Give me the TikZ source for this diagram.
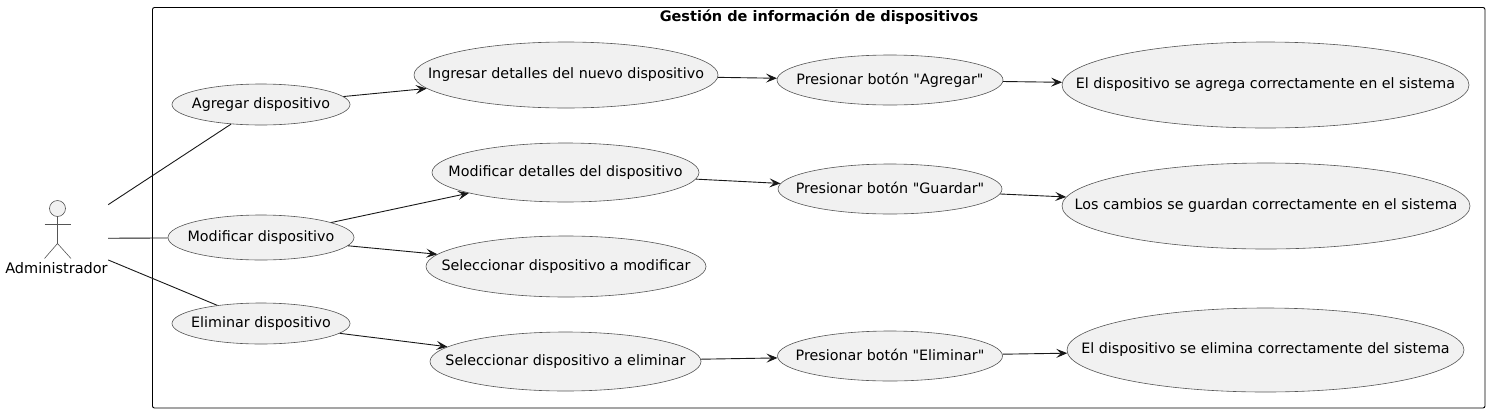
\documentclass[tikz,border=0pt]{standalone}
\usepackage{fontspec}
\newfontfamily\umlfont{DejaVu Sans}
\usetikzlibrary{shapes.geometric,arrows.meta}
\definecolor{umlline}{HTML}{181818}
\definecolor{umlgray}{HTML}{555555}
\definecolor{umlfill}{HTML}{F1F1F1}
\newcommand{\uctext}[1]{\raisebox{1.5pt}{\makebox[0pt]{#1}}}
\tikzstyle{usecase} = [ellipse, draw=umlgray, line width=0.6pt, fill=umlfill, inner sep=0pt, text=black, font=\umlfont\fontsize{14.3}{14.3}\selectfont]
\tikzstyle{arrow}   = [line width=0.9pt, draw=umlline, -{Stealth[length=11pt,width=9pt,inset=4.5pt]}]
\tikzstyle{assoc}   = [line width=0.9pt, draw=umlline]
\tikzstyle{limb}    = [line width=0.6pt, draw=umlgray]

\begin{document}
\begin{tikzpicture}[x=1pt,y=-1pt]
	\useasboundingbox (0,0) rectangle (1490,413);

	% system frame
	\draw[line width=0.9pt, rounded corners=2pt] (152.5,7.5) rectangle (1485,408);
	\node[font=\umlfont\fontsize{14.5}{14.5}\selectfont\bfseries] (title) at (819,17) {Gestión de información de dispositivos};

	% actor
	\node[draw=none, minimum width=103pt, minimum height=77pt, inner sep=0pt] (admin) at (56.5,238.5) {};
	\node[font=\umlfont\fontsize{14.5}{14.5}\selectfont] (adminlabel) at (56.5,268) {Administrador};
	\node[circle, draw=umlgray, line width=0.6pt, fill=umlfill, minimum size=16pt, inner sep=0pt] (head) at (57.5,208.5) {};
	\coordinate (hip) at (57.5,243.5);
	\coordinate (armleft) at (44.5,224.5);
	\coordinate (armright) at (71,224.5);
	\coordinate (legleft) at (44.5,258.5);
	\coordinate (legright) at (71,258.5);
	\draw[limb] (head) -- (hip);
	\draw[limb] (armleft) -- (armright);
	\draw[limb] (legleft) -- (hip) -- (legright);

	% first column
	\node[usecase, minimum width=178pt, minimum height=41pt] (agregar) at (261,104.5) {\uctext{Agregar dispositivo}};
	\node[usecase, minimum width=186pt, minimum height=45pt] (modificar) at (261,237.5) {\uctext{Modificar dispositivo}};
	\node[usecase, minimum width=178pt, minimum height=41pt] (eliminar) at (261,323.5) {\uctext{Eliminar dispositivo}};

	% second column
	\node[usecase, minimum width=304pt, minimum height=66pt] (ingresar) at (566,75) {\uctext{Ingresar detalles del nuevo dispositivo}};
	\node[usecase, minimum width=267pt, minimum height=59pt] (detalles) at (565.5,172.5) {\uctext{Modificar detalles del dispositivo}};
	\node[usecase, minimum width=280pt, minimum height=61pt] (selmod) at (566,266.5) {\uctext{Seleccionar dispositivo a modificar}};
	\node[usecase, minimum width=271pt, minimum height=59pt] (selelim) at (565.5,361.5) {\uctext{Seleccionar dispositivo a eliminar}};

	% third column
	\node[usecase, minimum width=226pt, minimum height=50pt] (btnagregar) at (890,80) {\uctext{Presionar botón "Agregar"}};
	\node[usecase, minimum width=224pt, minimum height=50pt] (btnguardar) at (890,189) {\uctext{Presionar botón "Guardar"}};
	\node[usecase, minimum width=225pt, minimum height=50pt] (btneliminar) at (890,356) {\uctext{Presionar botón "Eliminar"}};

	% last column
	\node[usecase, minimum width=407pt, minimum height=86pt] (finagregar) at (1265.5,85) {\uctext{El dispositivo se agrega correctamente en el sistema}};
	\node[usecase, minimum width=408pt, minimum height=86pt] (finguardar) at (1266,206) {\uctext{Los cambios se guardan correctamente en el sistema}};
	\node[usecase, minimum width=397pt, minimum height=84pt] (finelim) at (1265.5,350) {\uctext{El dispositivo se elimina correctamente del sistema}};

	\draw[assoc] (admin) -- (agregar);
	\draw[assoc] (admin) -- (modificar);
	\draw[assoc] (admin) -- (eliminar);

	\draw[arrow] (agregar) -- (ingresar);
	\draw[arrow] (ingresar) -- (btnagregar);
	\draw[arrow] (btnagregar) -- (finagregar);

	\draw[arrow] (modificar) -- (detalles);
	\draw[arrow] (modificar) -- (selmod);
	\draw[arrow] (detalles) -- (btnguardar);
	\draw[arrow] (btnguardar) -- (finguardar);

	\draw[arrow] (eliminar) -- (selelim);
	\draw[arrow] (selelim) -- (btneliminar);
	\draw[arrow] (btneliminar) -- (finelim);
\end{tikzpicture}
\end{document}
